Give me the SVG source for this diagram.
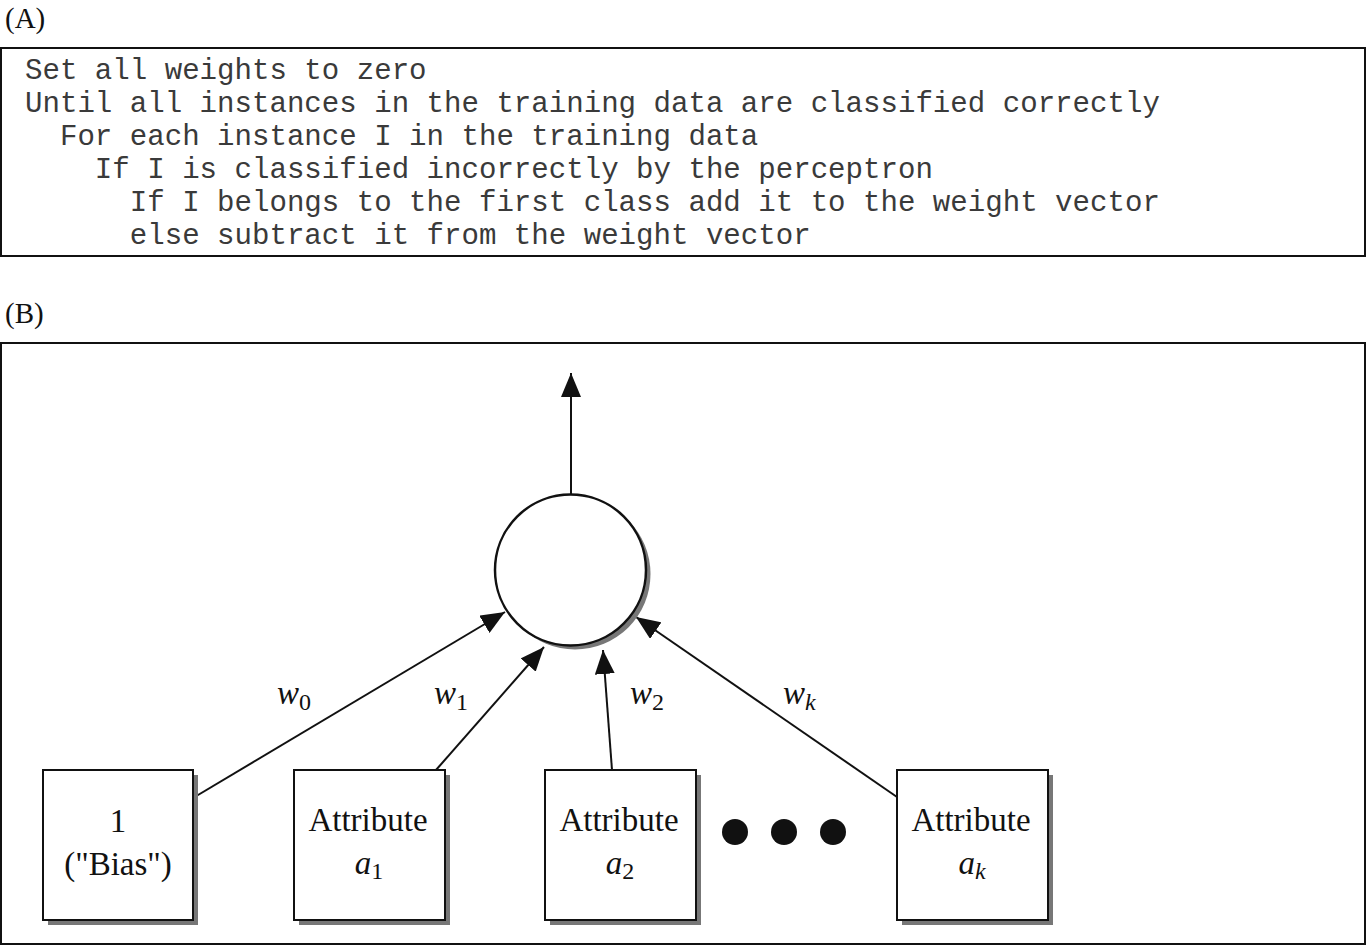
<svg xmlns="http://www.w3.org/2000/svg" width="1367" height="946" viewBox="0 0 1367 946">
<style>
.frame{fill:#fff;stroke:#111;stroke-width:2}
.code{font-family:"Liberation Mono","Courier New",monospace;font-size:29.1px;fill:#3a3a3a}
.lbl{font-family:"Liberation Serif","Times New Roman",serif;font-size:29px;fill:#111}
.box{fill:#fff;stroke:#111;stroke-width:2}
.shadow{fill:#777}
.t{font-family:"Liberation Serif","Times New Roman",serif;font-size:33px;fill:#111;text-anchor:middle}
.w{font-family:"Liberation Serif","Times New Roman",serif;font-size:33px;fill:#111;font-style:italic}
.sub{font-size:24px}
.conn{stroke:#111;stroke-width:2;fill:none;marker-end:url(#ah)}
</style>
<defs>
<marker id="ah" viewBox="0 0 24 20" refX="24" refY="10" markerWidth="24" markerHeight="20" markerUnits="userSpaceOnUse" orient="auto">
<path d="M0,0 L24,10 L0,20 Z" fill="#111"/>
</marker>
</defs>
<rect width="1367" height="946" fill="#fff"/>
<text class="lbl" x="5" y="28">(A)</text>
<rect class="frame" x="1" y="48" width="1364" height="208"/>
<g id="code">
<text class="code" x="25" y="79">Set all weights to zero</text>
<text class="code" x="25" y="112">Until all instances in the training data are classified correctly</text>
<text class="code" x="25" y="145" xml:space="preserve">  For each instance I in the training data</text>
<text class="code" x="25" y="178" xml:space="preserve">    If I is classified incorrectly by the perceptron</text>
<text class="code" x="25" y="211" xml:space="preserve">      If I belongs to the first class add it to the weight vector</text>
<text class="code" x="25" y="244" xml:space="preserve">      else subtract it from the weight vector</text>
</g>
<text class="lbl" x="5" y="323">(B)</text>
<rect class="frame" x="1" y="343" width="1364" height="601"/>
<g id="connectors">
<line class="conn" x1="571" y1="495" x2="571" y2="373"/>
<line class="conn" x1="193" y1="798" x2="505" y2="612"/>
<line class="conn" x1="436" y1="770" x2="544" y2="647"/>
<line class="conn" x1="612" y1="770" x2="603" y2="650"/>
<line class="conn" x1="897" y1="797" x2="636" y2="617"/>
</g>
<g id="neuron">
<circle class="shadow" cx="575" cy="574" r="75.5"/>
<circle cx="570.5" cy="570" r="75.5" fill="#fff" stroke="#111" stroke-width="2.5"/>
</g>
<g id="bias">
<rect class="shadow" x="48" y="775" width="150" height="150"/>
<rect class="box" x="43" y="770" width="150" height="150"/>
<text class="t" x="118" y="832">1</text>
<text class="t" x="118" y="875">("Bias")</text>
</g>
<g id="attr1">
<rect class="shadow" x="299" y="775" width="151" height="150"/>
<rect class="box" x="294" y="770" width="151" height="150"/>
<text class="t" x="368" y="831">Attribute</text>
<text class="t" x="369" y="874"><tspan style="font-style:italic">a</tspan><tspan class="sub" dy="5">1</tspan></text>
</g>
<g id="attr2">
<rect class="shadow" x="550" y="775" width="151" height="150"/>
<rect class="box" x="545" y="770" width="151" height="150"/>
<text class="t" x="619" y="831">Attribute</text>
<text class="t" x="620" y="874"><tspan style="font-style:italic">a</tspan><tspan class="sub" dy="5">2</tspan></text>
</g>
<g id="dots">
<circle cx="735" cy="832" r="13" fill="#111"/>
<circle cx="784" cy="832" r="13" fill="#111"/>
<circle cx="833" cy="832" r="13" fill="#111"/>
</g>
<g id="attrk">
<rect class="shadow" x="902" y="775" width="151" height="150"/>
<rect class="box" x="897" y="770" width="151" height="150"/>
<text class="t" x="971" y="831">Attribute</text>
<text class="t" x="972" y="874"><tspan style="font-style:italic">a</tspan><tspan class="sub" dy="5" style="font-style:italic">k</tspan></text>
</g>
<g id="weights">
<text class="w" x="277" y="704">w<tspan class="sub" dy="6" style="font-style:normal">0</tspan></text>
<text class="w" x="434" y="704">w<tspan class="sub" dy="6" style="font-style:normal">1</tspan></text>
<text class="w" x="630" y="704">w<tspan class="sub" dy="6" style="font-style:normal">2</tspan></text>
<text class="w" x="783" y="704">w<tspan class="sub" dy="6" style="font-style:italic">k</tspan></text>
</g>
</svg>
